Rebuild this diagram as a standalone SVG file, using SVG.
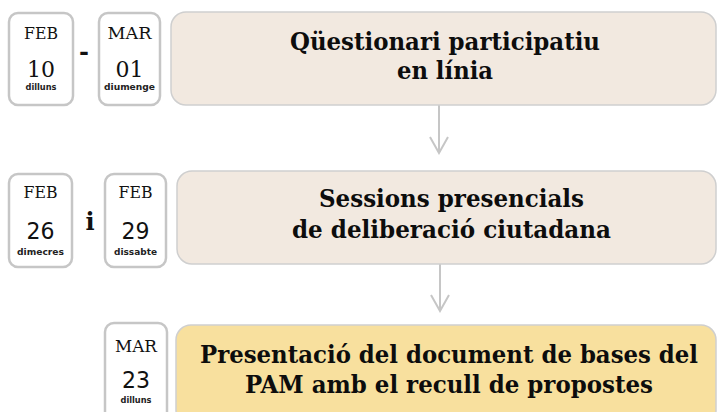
<svg xmlns="http://www.w3.org/2000/svg" width="717" height="412" viewBox="0 0 717 412">
<defs>
<style>
.card{fill:#ffffff;stroke:#c6c6c6;stroke-width:2.5}
.box{fill:#f2e9e0;stroke:#cfcfcf;stroke-width:1.5}
.box3{fill:#f8e09e;stroke:#cfcfcf;stroke-width:1.5}
.mon{font-family:"DejaVu Serif","Liberation Serif",serif;font-size:17px;fill:#111;text-anchor:middle}
.num{font-family:"DejaVu Serif","Liberation Serif",serif;font-size:23px;fill:#111;text-anchor:middle}
.nums{font-family:"DejaVu Sans","Liberation Sans",sans-serif;font-size:23px;fill:#111;text-anchor:middle}
.day{font-family:"DejaVu Sans","Liberation Sans",sans-serif;font-size:8px;font-weight:bold;fill:#222;text-anchor:middle}
.sep{font-family:"DejaVu Serif","Liberation Serif",serif;font-size:24px;font-weight:bold;fill:#111;text-anchor:middle}
.title{font-family:"DejaVu Serif","Liberation Serif",serif;font-size:24px;font-weight:bold;fill:#0d0d0d;text-anchor:middle}
.conn{stroke:#c6c6c6;stroke-width:2;fill:none}
</style>
<marker id="arr" markerUnits="userSpaceOnUse" viewBox="-18 -11 20 22" refX="0" refY="0" markerWidth="20" markerHeight="22" orient="auto">
<path d="M-16,-9 L0,0 L-16,9" fill="none" stroke="#c6c6c6" stroke-width="2"/>
</marker>
</defs>
<rect width="717" height="412" fill="#ffffff"/>

<g id="connectors">
<path class="conn" d="M439,105 L439,153" marker-end="url(#arr)"/>
<path class="conn" d="M440,264 L440,311" marker-end="url(#arr)"/>
</g>

<g id="date-feb10">
<rect class="card" x="9" y="13" width="64" height="92" rx="9"/>
<text class="mon" x="41" y="39" textLength="34" lengthAdjust="spacingAndGlyphs">FEB</text>
<text class="num" x="41" y="77" textLength="28" lengthAdjust="spacingAndGlyphs">10</text>
<text class="day" x="41" y="90" textLength="31" lengthAdjust="spacingAndGlyphs">dilluns</text>
</g>
<text class="sep" x="84" y="60">-</text>
<g id="date-mar01">
<rect class="card" x="99" y="13" width="61" height="92" rx="9"/>
<text class="mon" x="129.5" y="39" textLength="44" lengthAdjust="spacingAndGlyphs">MAR</text>
<text class="num" x="129.5" y="77" textLength="28" lengthAdjust="spacingAndGlyphs">01</text>
<text class="day" x="129.5" y="90" textLength="51" lengthAdjust="spacingAndGlyphs">diumenge</text>
</g>
<g id="step1">
<rect class="box" x="171" y="12" width="545" height="93" rx="15"/>
<text class="title" x="445" y="50" textLength="310" lengthAdjust="spacingAndGlyphs">Qüestionari participatiu</text>
<text class="title" x="445" y="79" textLength="96" lengthAdjust="spacingAndGlyphs">en línia</text>
</g>

<g id="date-feb26">
<rect class="card" x="9" y="174" width="63" height="93" rx="9"/>
<text class="mon" x="40.5" y="198" textLength="34" lengthAdjust="spacingAndGlyphs">FEB</text>
<text class="nums" x="40.5" y="239" textLength="28" lengthAdjust="spacingAndGlyphs">26</text>
<text class="day" x="40.5" y="255" textLength="47" lengthAdjust="spacingAndGlyphs">dimecres</text>
</g>
<text class="sep" x="90" y="230">i</text>
<g id="date-feb29">
<rect class="card" x="105" y="174" width="61" height="93" rx="9"/>
<text class="mon" x="135.5" y="198" textLength="34" lengthAdjust="spacingAndGlyphs">FEB</text>
<text class="nums" x="135.5" y="239" textLength="28" lengthAdjust="spacingAndGlyphs">29</text>
<text class="day" x="135.5" y="255" textLength="43" lengthAdjust="spacingAndGlyphs">dissabte</text>
</g>
<g id="step2">
<rect class="box" x="177" y="171" width="539" height="93" rx="15"/>
<text class="title" x="451.5" y="207" textLength="265" lengthAdjust="spacingAndGlyphs">Sessions presencials</text>
<text class="title" x="451.5" y="238" textLength="319" lengthAdjust="spacingAndGlyphs">de deliberació ciutadana</text>
</g>

<g id="date-mar23">
<rect class="card" x="105" y="323" width="62" height="100" rx="9"/>
<text class="mon" x="136" y="352" textLength="42" lengthAdjust="spacingAndGlyphs">MAR</text>
<text class="nums" x="136" y="388" textLength="28" lengthAdjust="spacingAndGlyphs">23</text>
<text class="day" x="136" y="403" textLength="31" lengthAdjust="spacingAndGlyphs">dilluns</text>
</g>
<g id="step3">
<rect class="box3" x="176" y="325" width="540" height="100" rx="15"/>
<text class="title" x="449" y="363" textLength="498" lengthAdjust="spacingAndGlyphs">Presentació del document de bases del</text>
<text class="title" x="449" y="393" textLength="408" lengthAdjust="spacingAndGlyphs">PAM amb el recull de propostes</text>
</g>
</svg>
